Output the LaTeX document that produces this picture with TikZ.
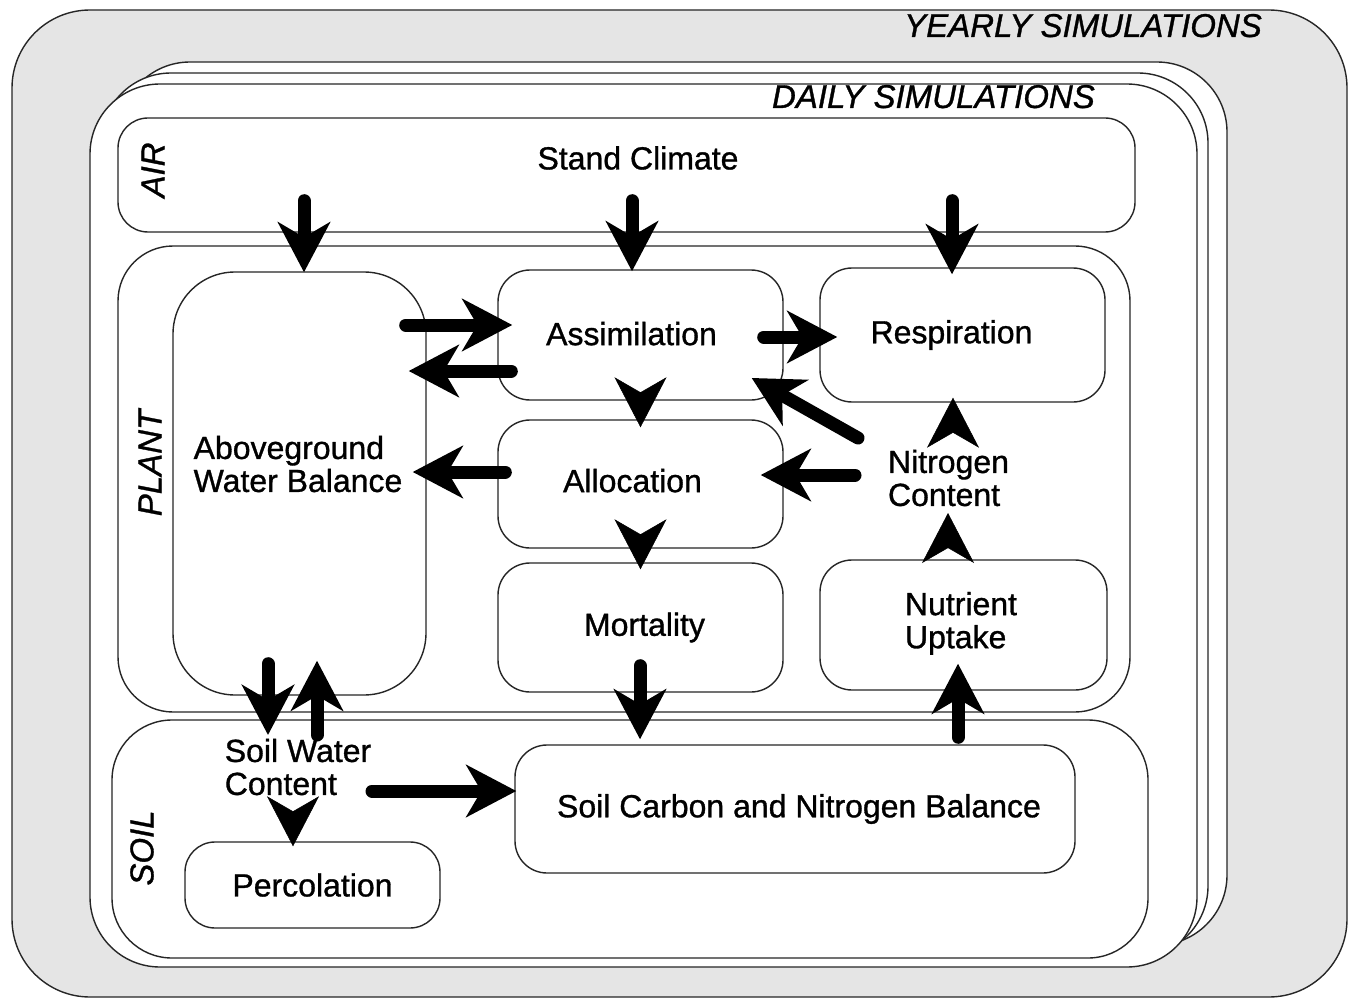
\documentclass[tikz,border=0pt]{standalone}
\usepackage{fontspec}
\setmainfont{Liberation Sans}
\newfontfamily\heavyfont[FakeBold=1.0]{Liberation Sans}
\usetikzlibrary{arrows.meta,calc}

\newcommand\bodyfont{\heavyfont\fontsize{32}{33}\selectfont}
\newcommand\tagfont{\heavyfont\fontsize{33}{34}\selectfont\itshape}

\tikzset{
  outline/.style={draw=black!85, line width=1.4pt},
  sheet/.style={outline, fill=white, rounded corners=70pt, inner sep=0pt},
  layer/.style={outline, fill=white, inner sep=0pt},
  procbox/.style={outline, fill=white, rounded corners=32pt, inner sep=0pt,
    font=\bodyfont, align=center},
  plain/.style={inner sep=0pt, font=\bodyfont, align=left},
  tag/.style={inner sep=0pt, font=\tagfont},
  bighead/.style={-{Stealth[length=50pt,width=52pt,inset=15pt]}},
  flow/.style={bighead, line width=13pt, line cap=round},
  chevron/.style={bighead, line width=0.5pt}
}

\begin{document}
\begin{tikzpicture}[x=1pt,y=-1pt]
\useasboundingbox (0,0) rectangle (1349,1000);

% yearly loop
\node[outline, fill=black!10, rounded corners=78pt, inner sep=0pt,
      minimum width=1335pt, minimum height=987pt] (yearly) at (679.5,503.5) {};
\node[tag, anchor=base east] (yearlytag) at (1262,37) {YEARLY SIMULATIONS};

% stack of daily sheets
\node[sheet, minimum width=1107pt, minimum height=883pt] (day3) at (673.5,503.5) {};
\node[sheet, minimum width=1107pt, minimum height=883pt] (day2) at (654.5,514.5) {};
\node[sheet, minimum width=1107pt, minimum height=883pt] (day1) at (643.5,525.5) {};
\node[tag, anchor=base east] (dailytag) at (1095,108) {DAILY SIMULATIONS};

% compartments
\node[layer, rounded corners=30pt, minimum width=1017pt, minimum height=114pt] (air) at (626.5,175) {};
\node[layer, rounded corners=55pt, minimum width=1012pt, minimum height=466pt] (plant) at (624,479) {};
\node[layer, rounded corners=60pt, minimum width=1036pt, minimum height=238pt] (soil) at (630,839) {};
\node[tag, rotate=90] (airtag) at (153,170) {AIR};
\node[tag, rotate=90] (planttag) at (150,463) {PLANT};
\node[tag, rotate=90] (soiltag) at (142,848) {SOIL};

% processes
\node[plain] (climate) at (638,158) {Stand Climate};
\node[procbox, rounded corners=62pt, minimum width=253pt, minimum height=423pt] (water) at (299.5,483.5) {};
\node[plain] (waterlabel) at (298,464) {Aboveground\\Water Balance};
\node[procbox, minimum width=285pt, minimum height=130pt] (assim) at (640.5,335) {\hspace*{-18pt}\raisebox{3pt}{Assimilation}};
\node[procbox, minimum width=285pt, minimum height=134pt] (resp) at (962.5,335) {\hspace*{-22pt}Respiration};
\node[procbox, minimum width=285pt, minimum height=128pt] (alloc) at (640.5,484) {\hspace*{-16pt}\raisebox{7pt}{Allocation}};
\node[procbox, minimum width=285pt, minimum height=129pt] (mort) at (640.5,627.5) {\hspace*{8pt}Mortality};
\node[procbox, minimum width=287pt, minimum height=130pt] (nutr) at (963.5,625) {\hspace*{-5pt}\begin{tabular}{@{}l@{}}Nutrient\\Uptake\end{tabular}};
\node[plain] (nitro) at (948.5,478) {Nitrogen\\Content};
\node[procbox, minimum width=560pt, minimum height=128pt] (soilcn) at (795,809) {\hspace*{8pt}Soil Carbon and Nitrogen Balance};
\node[plain] (swc) at (298,767) {Soil Water\\Content};
\node[procbox, rounded corners=30pt, minimum width=255pt, minimum height=86pt] (perc) at (312.5,885) {Percolation};

% climate forcing
\draw[flow] ($(air.south -| water.north)+(4.5,-32)$) -- ($(water.north)+(4.5,1)$);
\draw[flow] ($(air.south -| assim.north)+(-8.5,-32)$) -- ($(assim.north)+(-8.5,2)$);
\draw[flow] ($(air.south -| resp.north)+(-10.5,-32)$) -- ($(resp.north)+(-10.5,7)$);

% plant fluxes
\draw[flow] ($(assim.west -| water.east)+(-21,-10)$) -- ($(assim.west)+(15,-10)$);
\draw[flow] ($(assim.west)+(14,36)$) -- ($(assim.west -| water.east)+(-18,36)$);
\draw[flow] ($(assim.east)+(-20,2)$) -- ($(resp.west)+(18,2)$);
\draw[chevron] ($(assim.south)+(0,-2)$) -- ($(alloc.north)+(0,8)$);
\draw[flow] ($(nitro)+(-90.5,-40)$) -- ($(assim.east)+(-32,43)$);
\draw[flow] ($(nitro)+(-93.5,-3)$) -- ($(alloc.east)+(-23,-9)$);
\draw[flow] ($(alloc.west)+(8,-12)$) -- ($(alloc.west -| water.east)+(-14,-12)$);
\draw[chevron] ($(alloc.south)+(0,-8)$) -- ($(mort.north)+(0,7)$);
\draw[chevron] ($(nitro)+(4.5,-50)$) -- ($(resp.south)+(-9.5,-5)$);
\draw[chevron] ($(nutr.north)+(-15.5,-17)$) -- ($(nitro)+(-0.5,35)$);

% soil fluxes
\draw[flow] ($(soilcn.north -| nutr.south)+(-5.5,-7)$) -- ($(nutr.south)+(-5.5,-27)$);
\draw[flow] ($(mort.south)+(-0.5,-27)$) -- ($(soilcn.north -| mort.south)+(-0.5,-5)$);
\draw[flow] ($(water.south)+(-31.5,-32)$) -- ($(swc)+(-30,-32)$);
\draw[flow] ($(swc)+(19,-32)$) -- ($(water.south)+(17.5,-35)$);
\draw[chevron] ($(swc)+(-5,50)$) -- ($(perc.north)+(-19.5,5)$);
\draw[flow] ($(swc)+(74,24)$) -- ($(soilcn.west)+(2,-18)$);
\end{tikzpicture}
\end{document}
